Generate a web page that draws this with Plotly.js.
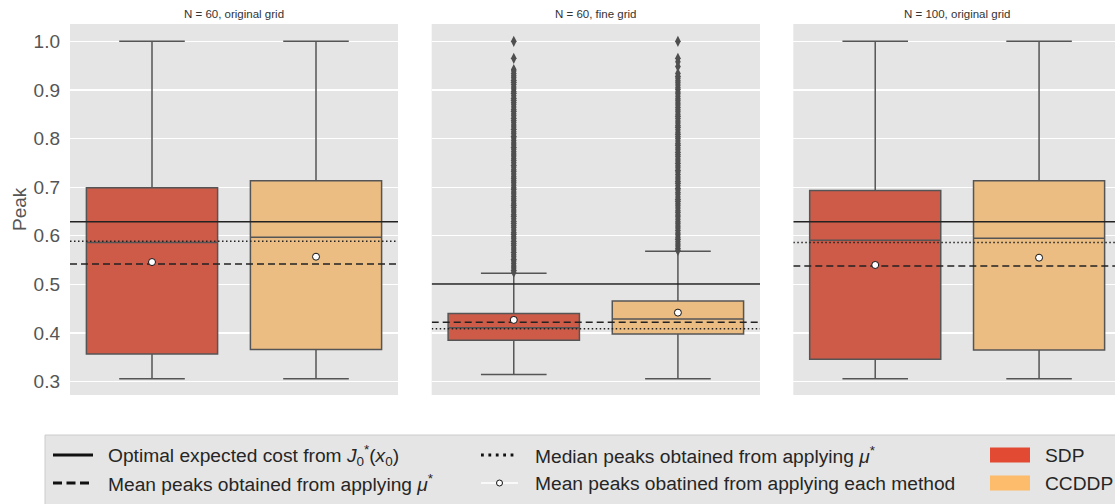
<!DOCTYPE html>
<html>
<head>
<meta charset="utf-8">
<script src="https://cdn.plot.ly/plotly-3.0.1.min.js"></script>
<style>html,body{margin:0;padding:0;background:#fff;}#chart{width:1115px;height:504px;}</style>
</head>
<body>
<div id="chart"></div>
<script>
// ---------- data ----------
const methods = ['SDP', 'CCDDP'];
const panelTitles = ['N = 60, original grid', 'N = 60, fine grid', 'N = 100, original grid'];
const q1Vals = [[0.357, 0.366], [0.385, 0.398], [0.346, 0.365]];
const medianVals = [[0.586, 0.597], [0.411, 0.429], [0.591, 0.595]];
const q3Vals = [[0.699, 0.713], [0.440, 0.466], [0.693, 0.713]];
const lowerWhisker = [[0.306, 0.306], [0.315, 0.306], [0.306, 0.306]];
const upperWhisker = [[1.0, 1.0], [0.523, 0.568], [1.0, 1.0]];
const meanVals = [[0.546, 0.557], [0.427, 0.442], [0.540, 0.555]];
const optimalCost = [0.629, 0.501, 0.629];
const medianPeakMu = [0.589, 0.409, 0.586];
const meanPeakMu = [0.542, 0.422, 0.538];
const lineSpan = [-0.5, 1.5];
// outliers of the fine-grid panel (panel index 1)
const outliersSDP = [0.525,0.529,0.534,0.538,0.543,0.548,0.552,0.557,0.561,0.566,0.571,0.575,0.58,0.584,0.589,0.594,0.598,0.603,0.607,0.612,0.617,0.621,0.626,0.63,0.635,0.64,0.644,0.649,0.653,0.658,0.663,0.667,0.672,0.676,0.681,0.686,0.69,0.695,0.699,0.704,0.709,0.713,0.718,0.722,0.727,0.732,0.736,0.741,0.745,0.75,0.755,0.759,0.764,0.768,0.773,0.778,0.782,0.787,0.791,0.796,0.801,0.805,0.81,0.814,0.819,0.824,0.828,0.833,0.837,0.842,0.847,0.851,0.856,0.86,0.865,0.87,0.874,0.879,0.883,0.888,0.893,0.897,0.902,0.906,0.911,0.916,0.92,0.925,0.929,0.934,0.939,0.942,0.965,1.0];
const outliersCCDDP = [0.57,0.574,0.579,0.583,0.588,0.593,0.597,0.602,0.606,0.611,0.616,0.62,0.625,0.629,0.634,0.639,0.643,0.648,0.652,0.657,0.662,0.666,0.671,0.675,0.68,0.685,0.689,0.694,0.698,0.703,0.708,0.712,0.717,0.721,0.726,0.731,0.735,0.74,0.744,0.749,0.754,0.758,0.763,0.767,0.772,0.777,0.781,0.786,0.79,0.795,0.8,0.804,0.809,0.813,0.818,0.823,0.827,0.832,0.836,0.841,0.846,0.85,0.855,0.859,0.864,0.869,0.873,0.878,0.882,0.887,0.892,0.896,0.901,0.905,0.91,0.915,0.919,0.924,0.928,0.934,0.948,0.958,0.965,1.0];
const outlierPanel = 1;
const legendLabels = ['Optimal expected cost from <i>J</i><sub>0</sub><sup>*</sup>(<i>x</i><sub>0</sub>)',
  'Mean peaks obtained from applying <i>μ</i><sup>*</sup>',
  'Median peaks obtained from applying <i>μ</i><sup>*</sup>',
  'Mean peaks obatined from applying each method'];

// ---------- styles ----------
const boxFill = ['#CD5B48', '#EBBD82'];
const patchColor = ['#E34A33', '#FDBB6C'];
const edge = '#555555';
const W = 1115, H = 504;
const px = v => v / W, py = v => 1 - v / H;
const font = 'Liberation Sans, Arial, Helvetica, sans-serif';

const traces = [];
const axN = i => (i === 0 ? '' : String(i + 1));

for (let i = 0; i < 3; i++) {
  const xa = 'x' + axN(i), ya = 'y' + axN(i);
  methods.forEach((m, j) => {
    traces.push({
      type: 'box', name: m, x: [methods.indexOf(m)],
      q1: [q1Vals[i][j]], median: [medianVals[i][j]], q3: [q3Vals[i][j]],
      lowerfence: [lowerWhisker[i][j]], upperfence: [upperWhisker[i][j]],
      width: 0.8, whiskerwidth: 0.5, fillcolor: boxFill[j],
      line: {color: edge, width: 1.5}, boxpoints: false,
      xaxis: xa, yaxis: ya, hoverinfo: 'skip', showlegend: false
    });
  });
  if (i === outlierPanel) {
    [outliersSDP, outliersCCDDP].forEach((arr, j) => {
      traces.push({
        type: 'scatter', mode: 'markers', x: arr.map(() => j), y: arr,
        marker: {symbol: 'diamond-tall', size: 8, color: '#4f4f4f', line: {width: 0}},
        xaxis: xa, yaxis: ya, hoverinfo: 'skip', showlegend: false
      });
    });
  }
  traces.push({type: 'scatter', mode: 'lines', x: lineSpan, y: [optimalCost[i], optimalCost[i]],
    line: {color: '#222', width: 1.5}, xaxis: xa, yaxis: ya, hoverinfo: 'skip', showlegend: false});
  traces.push({type: 'scatter', mode: 'lines', x: lineSpan, y: [medianPeakMu[i], medianPeakMu[i]],
    line: {color: '#222', width: 1.5, dash: '1.5px,2.5px'}, xaxis: xa, yaxis: ya, hoverinfo: 'skip', showlegend: false});
  traces.push({type: 'scatter', mode: 'lines', x: lineSpan, y: [meanPeakMu[i], meanPeakMu[i]],
    line: {color: '#222', width: 1.5, dash: '7px,4px'}, xaxis: xa, yaxis: ya, hoverinfo: 'skip', showlegend: false});
  traces.push({type: 'scatter', mode: 'markers', x: methods.map((m) => methods.indexOf(m)), y: meanVals[i],
    marker: {symbol: 'circle', size: 7, color: '#ffffff', line: {color: '#111', width: 1}},
    xaxis: xa, yaxis: ya, hoverinfo: 'skip', showlegend: false});
}

const xDomains = [[70 / W, 398 / W], [431.7 / W, 760 / W], [793.3 / W, 1]];
const xRanges = [[-0.5, 1.5], [-0.5, 1.5], [-0.5, 1.5 - (1121 - W) / 164]];
const yDomain = [py(395), py(24)];
const yRange = [0.2726, 1.0356];

const layout = {
  width: W, height: H,
  margin: {l: 0, r: 0, t: 0, b: 0},
  paper_bgcolor: '#ffffff', plot_bgcolor: '#E5E5E5',
  showlegend: false,
  font: {family: font, color: '#555'},
  shapes: [], annotations: []
};
for (let i = 0; i < 3; i++) {
  layout['xaxis' + axN(i)] = {domain: xDomains[i], range: xRanges[i], showticklabels: false,
    showgrid: false, zeroline: false, ticks: '', fixedrange: true, anchor: 'y' + axN(i)};
  layout['yaxis' + axN(i)] = {domain: yDomain, range: yRange, dtick: 0.1, tick0: 0, tickformat: '.1f',
    showgrid: true, gridcolor: '#ffffff', gridwidth: 1.2, zeroline: false, ticks: '',
    showticklabels: i === 0, tickfont: {size: 19, color: '#555', family: font},
    ticklabelstandoff: 9, anchor: 'x' + axN(i), fixedrange: true};
  if (i > 0) layout['yaxis' + axN(i)].matches = 'y';
}
// panel titles
const titleCenters = [234, 595.8, 957];
panelTitles.forEach((t, i) => {
  layout.annotations.push({text: t, xref: 'paper', yref: 'paper', x: px(titleCenters[i]), y: py(14),
    xanchor: 'center', yanchor: 'middle', showarrow: false, font: {size: 11.5, color: '#333', family: font}});
});
// y label
layout.annotations.push({text: 'Peak', xref: 'paper', yref: 'paper', x: px(19), y: py(209), textangle: -90,
  xanchor: 'center', yanchor: 'middle', showarrow: false, font: {size: 19, color: '#555', family: font}});

// ---------- legend (manual, three columns) ----------
const row1 = 455, row2 = 483;
layout.shapes.push({type: 'rect', xref: 'paper', yref: 'paper', x0: px(45), x1: px(1125), y0: py(515), y1: py(435),
  fillcolor: '#E5E5E5', line: {color: '#cccccc', width: 1}, layer: 'below'});
layout.shapes.push({type: 'line', xref: 'paper', yref: 'paper', x0: px(53), x1: px(93), y0: py(row1), y1: py(row1),
  line: {color: '#111', width: 2.8}});
layout.shapes.push({type: 'line', xref: 'paper', yref: 'paper', x0: px(53), x1: px(93), y0: py(row2), y1: py(row2),
  line: {color: '#111', width: 2.8, dash: '9px,4.5px'}});
layout.shapes.push({type: 'line', xref: 'paper', yref: 'paper', x0: px(481), x1: px(518), y0: py(row1), y1: py(row1),
  line: {color: '#111', width: 2.8, dash: '2.8px,4.6px'}});
layout.shapes.push({type: 'line', xref: 'paper', yref: 'paper', x0: px(481), x1: px(518), y0: py(row2), y1: py(row2),
  line: {color: '#ffffff', width: 1.5}});
layout.shapes.push({type: 'circle', xref: 'paper', yref: 'paper', x0: px(496.5), x1: px(502.5), y0: py(row2 + 3), y1: py(row2 - 3),
  fillcolor: '#ffffff', line: {color: '#111', width: 1}});
[row1, row2].forEach((r, j) => {
  layout.shapes.push({type: 'rect', xref: 'paper', yref: 'paper', x0: px(990), x1: px(1030), y0: py(r + 7.5), y1: py(r - 7.5),
    fillcolor: patchColor[j], line: {width: 0}});
});
const legendPos = [[106, row1], [106, row2], [533, row1], [533, row2]];
legendLabels.forEach((t, k) => {
  layout.annotations.push({text: t, xref: 'paper', yref: 'paper', x: px(legendPos[k][0]), y: py(legendPos[k][1]),
    xanchor: 'left', yanchor: 'middle', showarrow: false, font: {size: 19.2, color: '#262626', family: font}});
});
methods.forEach((m, j) => {
  layout.annotations.push({text: m, xref: 'paper', yref: 'paper', x: px(1043), y: py(j === 0 ? row1 : row2),
    xanchor: 'left', yanchor: 'middle', showarrow: false, font: {size: 19.2, color: '#262626', family: font}});
});

Plotly.newPlot('chart', traces, layout, {staticPlot: true, displayModeBar: false});
</script>
</body>
</html>
